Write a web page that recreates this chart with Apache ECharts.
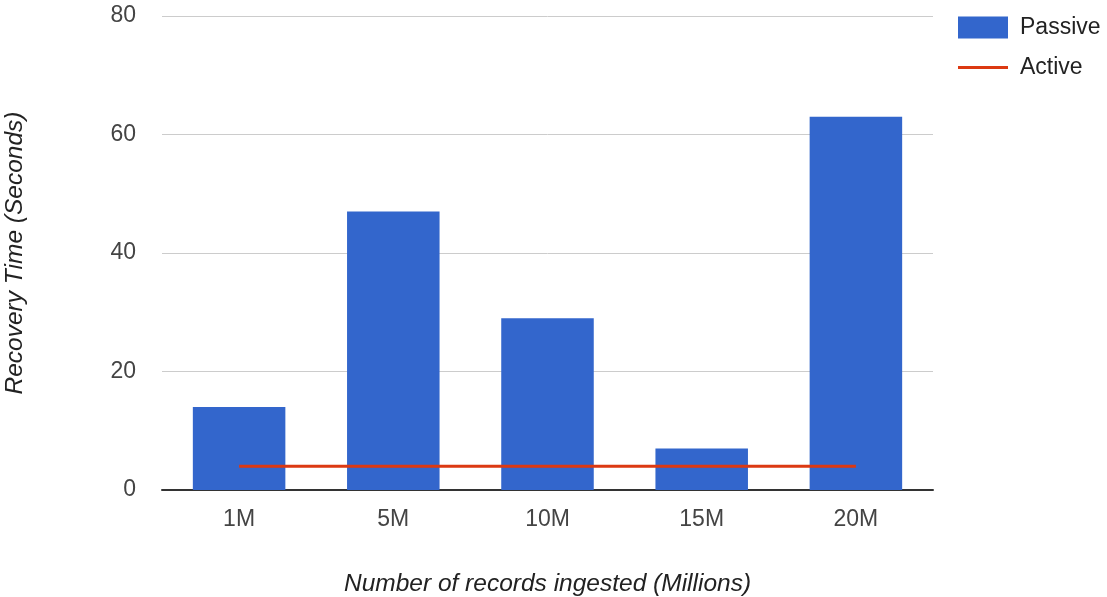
<!DOCTYPE html>
<html>
<head>
<meta charset="utf-8">
<script src="https://cdn.jsdelivr.net/npm/echarts@6/dist/echarts.min.js"></script>
<style>
  html, body { margin: 0; padding: 0; background: #fff; }
  #chart { width: 1107px; height: 597px; }
</style>
</head>
<body>
<div id="chart"></div>
<script>
// Recovery time per ingest size
const categories = ['1M', '5M', '10M', '15M', '20M'];
const passiveValues = [14, 47, 29, 7, 63];
const activeValues = [4, 4, 4, 4, 4];
const yTicks = { min: 0, max: 80, interval: 20 };

const FONT = '"Liberation Sans", Arial, sans-serif';
const chart = echarts.init(document.getElementById('chart'));

chart.setOption({
  animation: false,
  textStyle: { fontFamily: FONT },
  grid: {
    left: 162, right: 174, top: 16, bottom: 107,
    containLabel: false,
    outerBoundsMode: 'none'
  },
  legend: {
    orient: 'vertical',
    left: 958,
    top: 16,
    padding: 0,
    itemWidth: 50,
    itemHeight: 22,
    itemGap: 17,
    textStyle: { fontFamily: FONT, fontSize: 23, color: '#222', padding: [2, 0, 0, 7] },
    data: [
      { name: 'Passive', icon: 'rect' },
      { name: 'Active', icon: 'path://M0,0 L50,0 L50,3 L0,3 Z' }
    ]
  },
  xAxis: {
    type: 'category',
    data: categories,
    name: 'Number of records ingested (Millions)',
    nameLocation: 'middle',
    nameGap: 82,
    nameTextStyle: { fontFamily: FONT, fontSize: 24.5, fontStyle: 'italic', color: '#222' },
    axisLine: { lineStyle: { color: '#333', width: 2 } },
    axisTick: { show: false },
    axisLabel: { fontFamily: FONT, fontSize: 23, color: '#444', margin: 18 }
  },
  yAxis: {
    type: 'value',
    min: yTicks.min,
    max: yTicks.max,
    interval: yTicks.interval,
    name: 'Recovery Time (Seconds)',
    nameLocation: 'middle',
    nameGap: 134,
    nameTextStyle: { fontFamily: FONT, fontSize: 24.5, fontStyle: 'italic', color: '#222' },
    axisLine: { show: false },
    axisTick: { show: false },
    axisLabel: { fontFamily: FONT, fontSize: 23, color: '#444', margin: 26 },
    splitLine: { lineStyle: { color: '#cccccc', width: 1 } }
  },
  series: [
    {
      name: 'Passive',
      type: 'bar',
      data: passiveValues,
      barCategoryGap: '40%',
      itemStyle: { color: '#3366cc' }
    },
    {
      name: 'Active',
      type: 'line',
      data: activeValues,
      symbol: 'none',
      showSymbol: false,
      itemStyle: { color: '#dc3912' },
      lineStyle: { color: '#dc3912', width: 3 }
    }
  ]
});
</script>
</body>
</html>
